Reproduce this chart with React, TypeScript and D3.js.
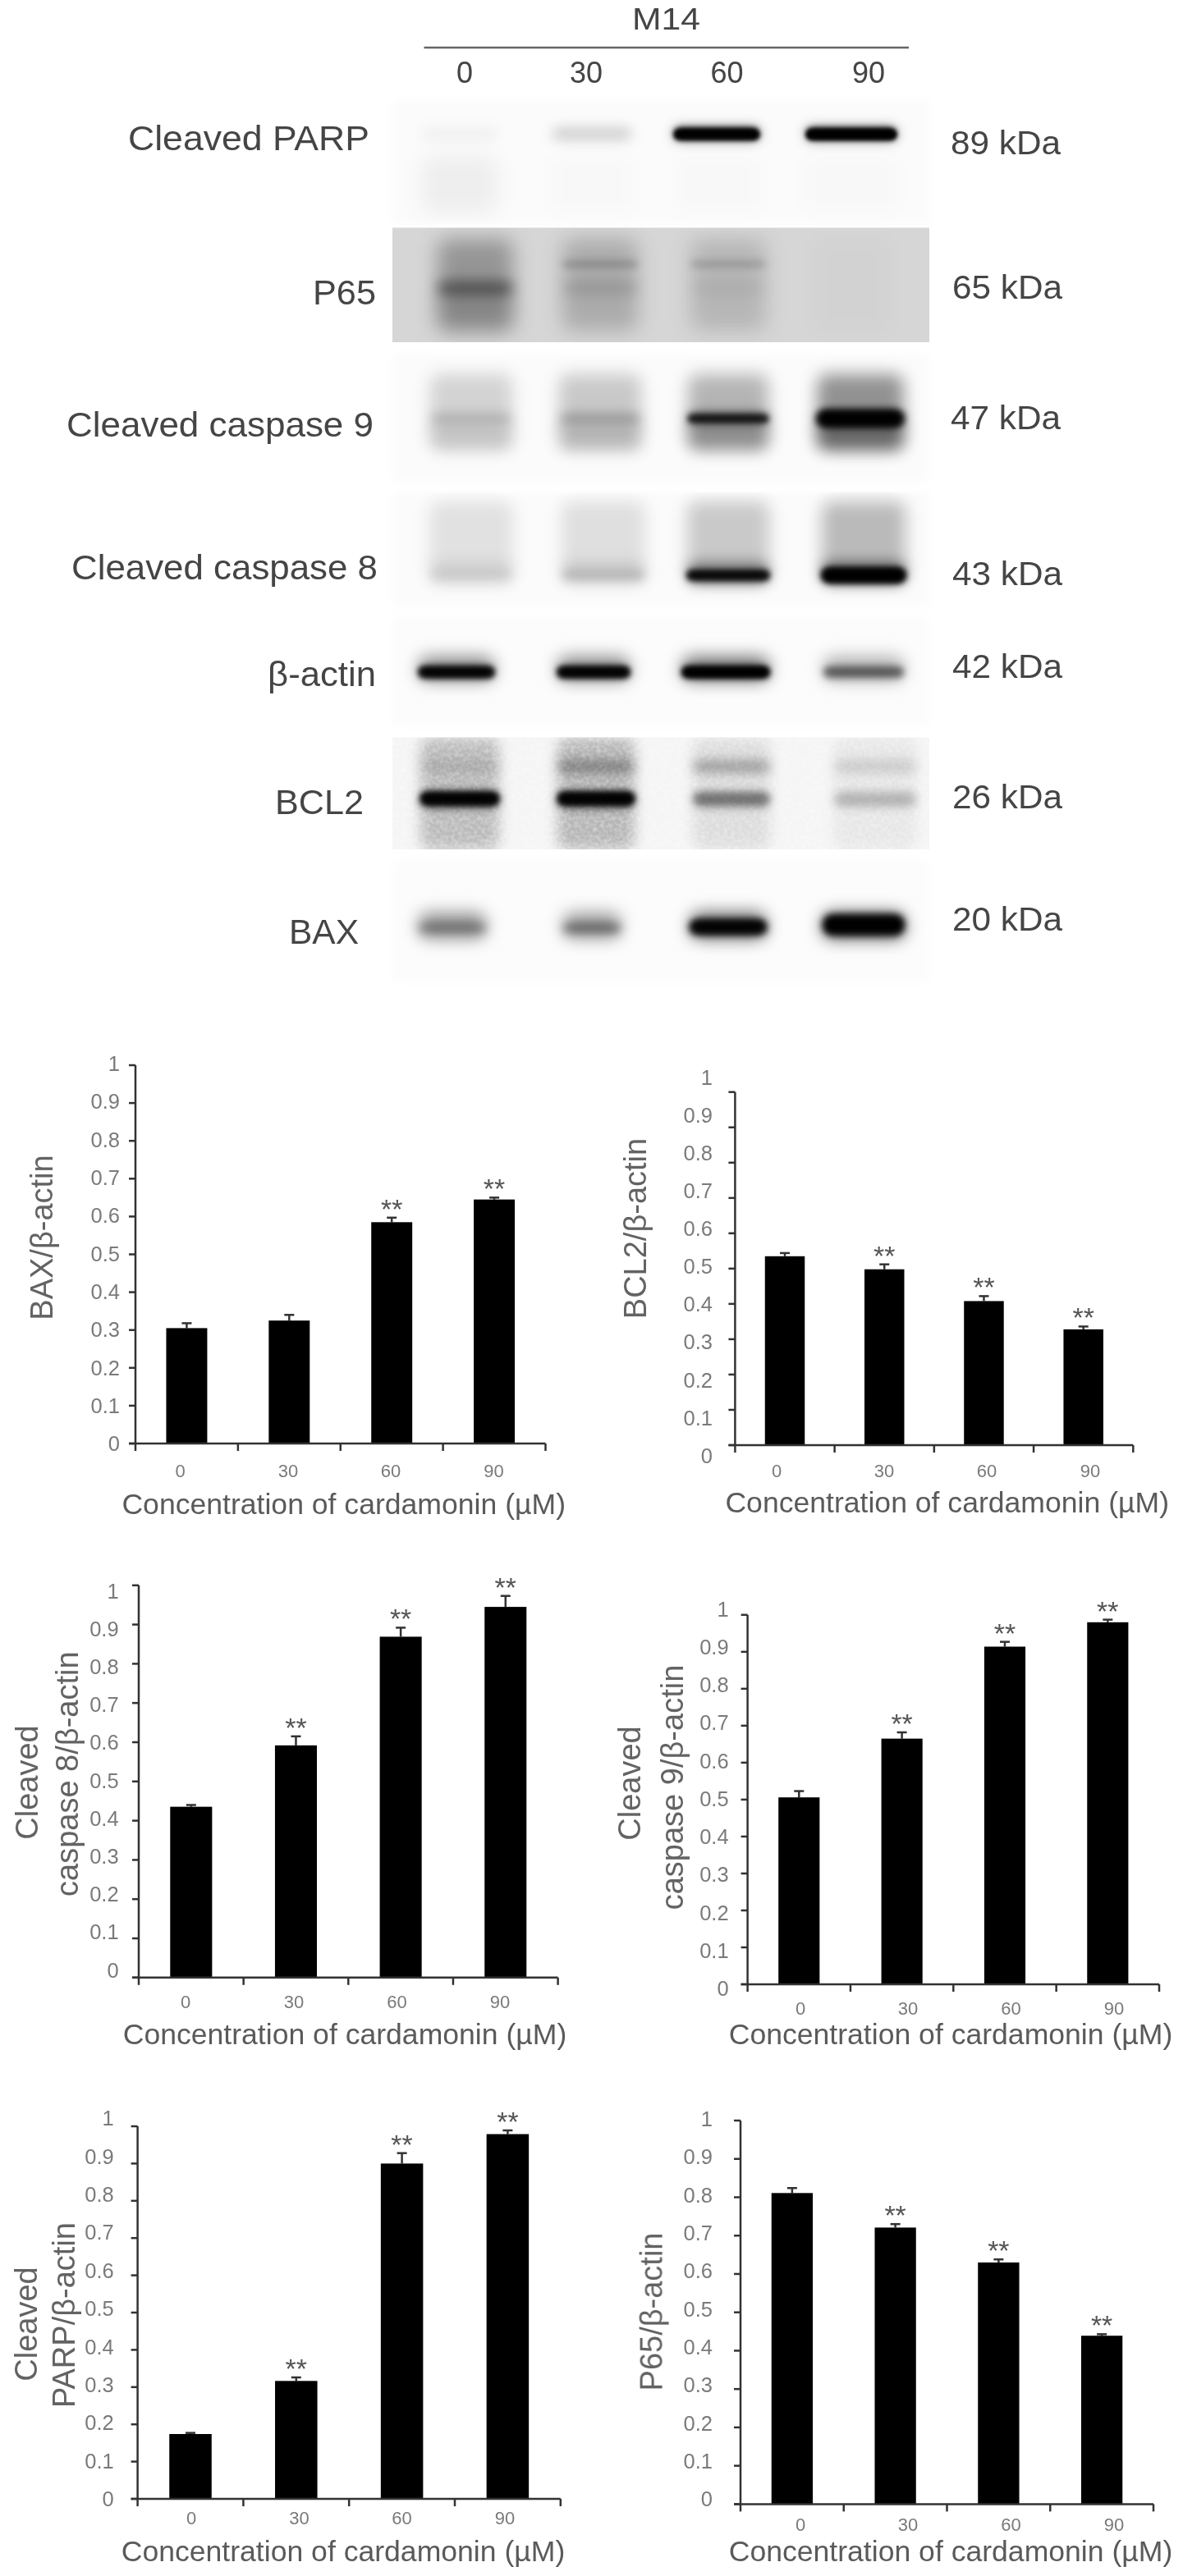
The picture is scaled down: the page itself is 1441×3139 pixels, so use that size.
import React from "react";
import * as d3 from "d3";

// ---------- data ----------
const doses = ["0", "30", "60", "90"];
const baxValues = [0.305, 0.325, 0.585, 0.645];
const baxTops = [0.318, 0.34, 0.597, 0.65];
const baxStars = [false, false, true, true];
const bcl2Values = [0.535, 0.498, 0.408, 0.328];
const bcl2Tops = [0.544, 0.512, 0.422, 0.336];
const casp8Values = [0.4355, 0.592, 0.869, 0.945];
const casp8Tops = [0.44, 0.615, 0.892, 0.973];
const casp9Values = [0.506, 0.665, 0.914, 0.98];
const casp9Tops = [0.523, 0.682, 0.927, 0.987];
const parpValues = [0.174, 0.3165, 0.9, 0.979];
const parpTops = [0.177, 0.326, 0.928, 0.989];
const p65Values = [0.811, 0.721, 0.63, 0.439];
const p65Tops = [0.824, 0.73, 0.638, 0.443];
const laterStars = [false, true, true, true];
const xTitle = "Concentration of cardamonin (µM)";

// ---------- chart layout ----------
const charts = [
  { yLabel: [{ t: "BAX/β-actin", x: 50, y: 1508 }], values: baxValues, tops: baxTops, stars: baxStars,
    left: 165, right: 664.5, top: 1298, zero: 1759, lab1: 1296, lab0: 1759, labRight: 146,
    xLabs: [219.5, 351, 476, 601.5], xLabY: 1792, titleX: 418.7, titleY: 1832 },
  { yLabel: [{ t: "BCL2/β-actin", x: 773, y: 1497 }], values: bcl2Values, tops: bcl2Tops, stars: laterStars,
    left: 895.4, right: 1380.3, top: 1330.7, zero: 1761, lab1: 1312.6, lab0: 1773.5, labRight: 868,
    xLabs: [946, 1077, 1202, 1328], xLabY: 1792, titleX: 1153.7, titleY: 1830 },
  { yLabel: [{ t: "Cleaved", x: 32, y: 2172 }, { t: "caspase 8/β-actin", x: 81.7, y: 2161.7 }], values: casp8Values, tops: casp8Tops, stars: laterStars,
    left: 169, right: 679.6, top: 1931.8, zero: 2409.8, lab1: 1938.4, lab0: 2400.5, labRight: 144.6,
    xLabs: [226, 358, 483.5, 609], xLabY: 2439, titleX: 420, titleY: 2478 },
  { yLabel: [{ t: "Cleaved", x: 766, y: 2173 }, { t: "caspase 9/β-actin", x: 818.7, y: 2178 }], values: casp9Values, tops: casp9Tops, stars: laterStars,
    left: 910.6, right: 1412, top: 1967.8, zero: 2418, lab1: 1960.4, lab0: 2423, labRight: 887.6,
    xLabs: [975, 1106, 1231.5, 1357], xLabY: 2446.6, titleX: 1158, titleY: 2478 },
  { yLabel: [{ t: "Cleaved", x: 31, y: 2832 }, { t: "PARP/β-actin", x: 77, y: 2821 }], values: parpValues, tops: parpTops, stars: laterStars,
    left: 167.6, right: 682.8, top: 2591, zero: 3045, lab1: 2581, lab0: 3045, labRight: 138.7,
    xLabs: [233, 364.6, 489.5, 615], xLabY: 3068, titleX: 418, titleY: 3108 },
  { yLabel: [{ t: "P65/β-actin", x: 792.6, y: 2817 }], values: p65Values, tops: p65Tops, stars: laterStars,
    left: 902, right: 1405, top: 2584, zero: 3051.4, lab1: 2582, lab0: 3045, labRight: 868,
    xLabs: [975, 1106, 1231.5, 1357], xLabY: 3076, titleX: 1158, titleY: 3108 },
];

// ---------- blot band densities (0..1, per lane) ----------
const blots = [
  { y0: 122, y1: 273, bg: "#fbfbfb", edge: 0, lanes: [560, 721, 873, 1037], w: [92, 96, 104, 110], layers: [
    { y: 225, h: 70, blur: 12, d: [0.05, 0.012, 0.012, 0.012] },
    { y: 163, h: 14, blur: 8, d: [0.05, 0.2, 0.55, 0.55] },
    { y: 163, h: 15, blur: 3.5, d: [0, 0, 1, 1] },
    { y: 164, h: 12, blur: 2.5, d: [0, 0, 0.9, 1] },
  ] },
  { y0: 277.5, y1: 417, bg: "#d6d6d6", edge: 1, lanes: [579, 731, 887, 1038], w: [92, 92, 92, 90], layers: [
    { y: 347, h: 112, blur: 12, d: [0.3, 0.2, 0.15, 0.02] },
    { y: 375, h: 56, blur: 12, d: [0.1, 0, 0, 0] },
    { y: 322, h: 9, blur: 5, d: [0, 0.2, 0.17, 0] },
    { y: 351, h: 16, blur: 8, d: [0.45, 0.12, 0.05, 0] },
  ] },
  { y0: 432, y1: 588, bg: "#fbfbfb", edge: 0, lanes: [574, 731, 887, 1048], w: [100, 100, 98, 105], layers: [
    { y: 502, h: 92, blur: 10, d: [0.16, 0.2, 0.28, 0.42] },
    { y: 525, h: 46, blur: 9, d: [0.07, 0.1, 0.22, 0.3] },
    { y: 510, h: 12, blur: 6, d: [0.1, 0.14, 0.6, 0.85] },
    { y: 510, h: 10, blur: 3, d: [0, 0, 0.75, 0] },
    { y: 510, h: 22, blur: 4, d: [0, 0, 0, 1] },
  ] },
  { y0: 600, y1: 738, bg: "#fbfbfb", edge: 0, lanes: [574, 735, 887, 1052], w: [102, 102, 100, 102], layers: [
    { y: 660, h: 98, blur: 10, d: [0.1, 0.11, 0.2, 0.26] },
    { y: 698, h: 28, blur: 8, d: [0.08, 0.1, 0.35, 0.45] },
    { y: 701, h: 13, blur: 5, d: [0.04, 0.1, 0.85, 0.85] },
    { y: 701, h: 10, blur: 3, d: [0, 0, 0.8, 0] },
    { y: 701, h: 19, blur: 3.5, d: [0, 0, 0, 1] },
  ] },
  { y0: 750, y1: 885, bg: "#fcfcfc", edge: 0, lanes: [556, 723, 884, 1052], w: [92, 88, 106, 98], layers: [
    { y: 815, h: 30, blur: 10, d: [0.45, 0.45, 0.55, 0.3] },
    { y: 819, h: 14, blur: 4, d: [1, 1, 1, 0.5] },
    { y: 819, h: 12, blur: 3, d: [0.7, 0.8, 1, 0.05] },
  ] },
  { y0: 898.5, y1: 1035, bg: "#f5f5f5", edge: 1, lanes: [560, 726, 891, 1066], w: [96, 94, 94, 100], layers: [
    { y: 967, h: 137, blur: 8, d: [0.24, 0.26, 0.1, 0.06] },
    { y: 934, h: 14, blur: 7, d: [0.12, 0.35, 0.32, 0.15] },
    { y: 974, h: 18, blur: 6, d: [0.85, 0.85, 0.42, 0.24] },
    { y: 973, h: 16, blur: 3, d: [0.95, 0.95, 0.15, 0] },
  ] },
  { y0: 1047, y1: 1197, bg: "#fcfcfc", edge: 0, lanes: [551, 721, 887, 1052], w: [82, 70, 92, 100], layers: [
    { y: 1128, h: 32, blur: 10, d: [0.42, 0.38, 0.6, 0.65] },
    { y: 1131, h: 11, blur: 6, d: [0.3, 0.42, 1, 0] },
    { y: 1129, h: 17, blur: 4, d: [0, 0, 0.95, 0] },
    { y: 1127, h: 26, blur: 4, d: [0, 0, 0, 1] },
  ] },
];

const blotLabels = [
  { t: "Cleaved PARP", x: 156, w: 294, y: 168 },
  { t: "P65", x: 381, w: 77, y: 356 },
  { t: "Cleaved caspase 9", x: 81, w: 374, y: 517 },
  { t: "Cleaved caspase 8", x: 87, w: 373, y: 691 },
  { t: "β-actin", x: 326, w: 132, y: 821 },
  { t: "BCL2", x: 335, w: 108, y: 977 },
  { t: "BAX", x: 352, w: 85, y: 1135 },
];
const kdaLabels = [
  { t: "89 kDa", x: 1158, y: 174 },
  { t: "65 kDa", x: 1160, y: 350 },
  { t: "47 kDa", x: 1158, y: 509 },
  { t: "43 kDa", x: 1160, y: 699 },
  { t: "42 kDa", x: 1160, y: 812 },
  { t: "26 kDa", x: 1160, y: 971 },
  { t: "20 kDa", x: 1160, y: 1120 },
];
const headerDoses = [
  { t: "0", x: 566, w: 25 },
  { t: "30", x: 714, w: 46 },
  { t: "60", x: 885.5, w: 48 },
  { t: "90", x: 1058, w: 48 },
];

const FONT = "'Liberation Sans', Arial, sans-serif";
const density = d3.scaleLinear().domain([0, 1]).range([0, 1]).clamp(true);

function Blot({ b, i }: any) {
  const blurs = Array.from(new Set(b.layers.map((l: any) => l.blur)));
  const x0 = 478;
  const x1 = 1132;
  const key = (s: any) => `blot-${i}-${String(s).replace(".", "_")}`;
  return (
    <g>
      <defs>
        <clipPath id={`blot-clip-${i}`}><rect x={x0} y={b.y0} width={x1 - x0} height={b.y1 - b.y0} /></clipPath>
        <filter id={`blot-panel-${i}`} x="-5%" y="-10%" width="110%" height="120%"><feGaussianBlur stdDeviation={b.edge ? 0.6 : 6} /></filter>
        {blurs.map((s: any) => (
          <filter key={s} id={key(s)} x="-50%" y="-300%" width="200%" height="700%">
            <feGaussianBlur stdDeviation={s} />
          </filter>
        ))}
      </defs>
      <rect x={x0} y={b.y0} width={x1 - x0} height={b.y1 - b.y0} fill={b.bg} filter={`url(#blot-panel-${i})`} />
      <g clipPath={`url(#blot-clip-${i})`}>
        {b.layers.map((l: any, li: number) => (
          <g key={li}>
            {l.d.map((d: number, k: number) =>
              d > 0 ? (
                <rect key={k} x={b.lanes[k] - b.w[k] / 2} y={l.y - l.h / 2} width={b.w[k]} height={l.h} rx={Math.min(l.h / 2, 12)}
                  fill="#000" fillOpacity={density(d)} filter={`url(#${key(l.blur)})`} />
              ) : null
            )}
            {i === 5 && li === 0 ? <rect x={x0} y={b.y0} width={x1 - x0} height={b.y1 - b.y0} filter="url(#grain)" opacity={0.45} /> : null}
          </g>
        ))}
      </g>
    </g>
  );
}

function Chart({ c }: any) {
  const x = d3.scaleBand().domain(doses).range([c.left, c.right]).paddingInner(0.6).paddingOuter(0.3);
  const y = d3.scaleLinear().domain([0, 1]).range([c.zero, c.top]);
  const labelY = d3.scaleLinear().domain([0, 1]).range([c.lab0, c.lab1]);
  const ticks = y.ticks(10);
  const fmt = d3.format("~g");
  const edges = [...doses.map((d) => (x(d) as number) - x.step() * 0.3), c.right];
  const axis = "#333";
  return (
    <g filter="url(#soft)" fontFamily={FONT}>
      {c.values.map((v: number, i: number) => {
        const cx = (x(doses[i]) as number) + x.bandwidth() / 2;
        return (
          <g key={i}>
            <line x1={cx} x2={cx} y1={y(v)} y2={y(c.tops[i])} stroke={axis} strokeWidth={2.5} />
            <line x1={cx - 6} x2={cx + 6} y1={y(c.tops[i])} y2={y(c.tops[i])} stroke={axis} strokeWidth={2.5} />
            <rect x={x(doses[i])} y={y(v)} width={x.bandwidth()} height={c.zero - y(v)} fill="#000" />
            {c.stars[i] ? <text x={cx} y={y(c.tops[i]) - 15 + 16} textAnchor="middle" fontSize={34} fill="#555">**</text> : null}
          </g>
        );
      })}
      <line x1={c.left} x2={c.left} y1={c.top} y2={c.zero} stroke={axis} strokeWidth={2.5} />
      <line x1={c.left - 8} x2={c.right} y1={c.zero} y2={c.zero} stroke={axis} strokeWidth={2.5} />
      {ticks.map((t) => (
        <g key={t}>
          <line x1={c.left - 8} x2={c.left} y1={y(t)} y2={y(t)} stroke={axis} strokeWidth={2.5} />
          <text x={c.labRight} y={labelY(t)} dy="0.36em" textAnchor="end" fontSize={25.5} fill="#7a7a7a">{fmt(t)}</text>
        </g>
      ))}
      {edges.map((e, i) => (
        <line key={i} x1={e} x2={e} y1={c.zero} y2={c.zero + 9} stroke={axis} strokeWidth={2.5} />
      ))}
      {doses.map((d, i) => (
        <text key={d} x={c.xLabs[i]} y={c.xLabY} dy="0.36em" textAnchor="middle" fontSize={22} fill="#7a7a7a">{d}</text>
      ))}
      <text x={c.titleX} y={c.titleY} dy="0.36em" textAnchor="middle" fontSize={35.6} fill="#5a5a5a">{xTitle}</text>
      {c.yLabel.map((l: any) => (
        <text key={l.t} transform={`translate(${l.x},${l.y}) rotate(-90)`} dy="0.36em" textAnchor="middle" fontSize={38} fill="#636363">{l.t}</text>
      ))}
    </g>
  );
}

export default function App() {
  return (
    <svg width={1441} height={3139} viewBox="0 0 1441 3139" style={{ position: "absolute", left: 0, top: 0, display: "block", background: "#fff" }}>
      <defs>
        <filter id="soft" filterUnits="userSpaceOnUse" x="0" y="1200" width="1441" height="1939"><feGaussianBlur stdDeviation={0.7} /></filter>
        <filter id="softer" filterUnits="userSpaceOnUse" x="0" y="0" width="1441" height="1250"><feGaussianBlur stdDeviation={0.5} /></filter>
        <filter id="grain" x="0" y="0" width="100%" height="100%">
          <feTurbulence type="fractalNoise" baseFrequency="0.22" numOctaves={2} seed={7} />
          <feColorMatrix type="matrix" values="0 0 0 0 1  0 0 0 0 1  0 0 0 0 1  1.6 0 0 0 -0.55" />
        </filter>
      </defs>
      {blots.map((b, i) => <Blot key={i} b={b} i={i} />)}
      <g fontFamily={FONT} fill="#444" filter="url(#softer)">
        <text x={770} y={23} dy="0.36em" fontSize={36} textLength={83} lengthAdjust="spacingAndGlyphs">M14</text>
        <line x1={516.5} x2={1107} y1={58} y2={58} stroke="#666" strokeWidth={2.5} />
        {headerDoses.map((d) => (
          <text key={d.t} x={d.x} y={88} dy="0.36em" fontSize={36} textAnchor="middle">{d.t}</text>
        ))}
        {blotLabels.map((l) => (
          <text key={l.t} x={l.x} y={l.y} dy="0.36em" fontSize={42} textLength={l.w} lengthAdjust="spacingAndGlyphs">{l.t}</text>
        ))}
        {kdaLabels.map((l) => (
          <text key={l.t} x={l.x} y={l.y} dy="0.36em" fontSize={40} textLength={134} lengthAdjust="spacingAndGlyphs">{l.t}</text>
        ))}
      </g>
      {charts.map((c, i) => <Chart key={i} c={c} />)}
    </svg>
  );
}
